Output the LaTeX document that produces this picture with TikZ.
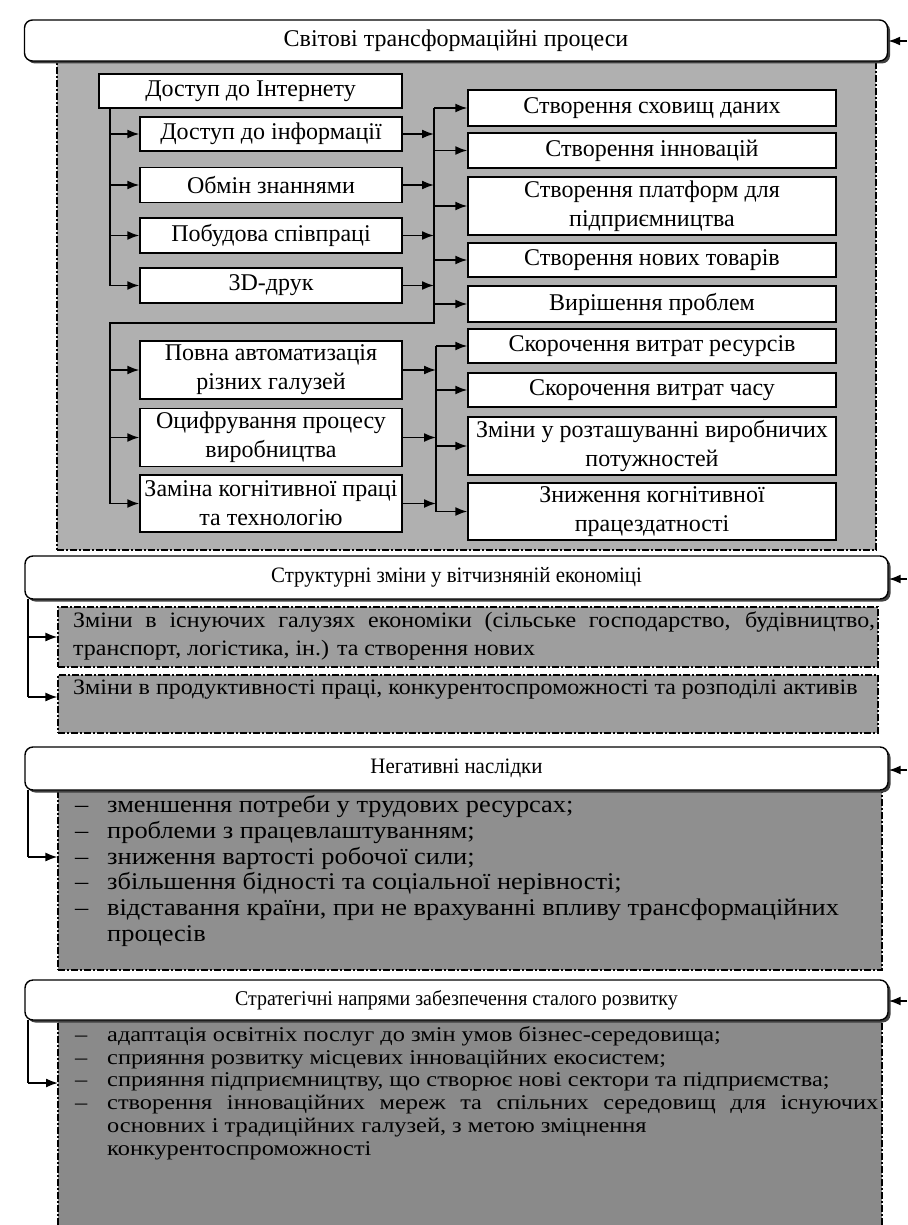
\documentclass[tikz,border=0pt]{standalone}
\usepackage{fontspec}
\setmainfont{Liberation Serif}
\newfontfamily\titfont{Liberation Serif}[FakeStretch=0.95]
\newfontfamily\sfont{Liberation Serif}[FakeStretch=1.09]
\newfontfamily\nfont{Liberation Serif}[FakeStretch=1.1]
\newfontfamily\qfont{Liberation Serif}[FakeStretch=1.16]
\usetikzlibrary{arrows.meta,shadows}
\definecolor{pone}{gray}{0.69}
\definecolor{ptwo}{gray}{0.62}
\definecolor{pthree}{gray}{0.56}
\definecolor{pfour}{gray}{0.54}
\begin{document}
\begin{tikzpicture}[x=1pt,y=-1pt,
  conn/.style={line width=1.7pt},
  arr/.style={line width=1.7pt,-{Latex[length=12pt,width=9pt]}},
  ibox/.style={draw,line width=1.4pt,fill=white,inner sep=0pt,align=center,
    font=\fontsize{24}{29}\selectfont},
  lbox/.style={ibox,minimum width=262pt},
  rbox/.style={ibox,minimum width=368pt},
  titlebox/.style={draw,line width=1.4pt,fill=white,rounded corners=8pt,inner sep=0pt,
    minimum width=863pt,font=\titfont\fontsize{22}{26}\selectfont,
    drop shadow={shadow xshift=2.5pt,shadow yshift=-2.5pt,fill=black!75,opacity=1}},
  pborder/.style={line width=1.1pt,dash pattern=on 7pt off 2pt on 2pt off 2pt},
  stext/.style={anchor=base west,inner sep=0pt,font=\sfont\fontsize{22}{26}\selectfont},
  ntext/.style={anchor=base west,inner sep=0pt,font=\nfont\fontsize{24}{26}\selectfont},
  qtext/.style={anchor=base west,inner sep=0pt,font=\qfont\fontsize{21}{24}\selectfont},
]
\useasboundingbox (0,0) rectangle (907,1225);

% ---------- panel 1 ----------
\node[fill=pone,draw,pborder,minimum width=819pt,minimum height=495pt,inner sep=0pt] (p1) at (466.5,302.5) {};

% ---------- title 1 ----------
\node[titlebox,minimum height=41pt,font=\fontsize{24}{26}\selectfont] (t1) at (456,40.5) {Світові трансформаційні процеси};
\coordinate (e1) at (907,41);
\draw[arr] (e1) -- (t1.east |- e1);

% inner boxes left
\node[ibox,minimum width=303pt,minimum height=34pt] (inet) at (250.5,91) {Доступ до Інтернету};
\node[lbox,minimum height=34pt] (li1) at (271,134) {Доступ до інформації};
\node[lbox,minimum height=35pt] (li2) at (271,185) {Обмін знаннями};
\node[lbox,minimum height=35pt] (li3) at (271,235.5) {Побудова співпраці};
\node[lbox,minimum height=35pt] (li4) at (271,285.5) {3D-друк};
\node[lbox,minimum height=58pt] (la) at (271,370) {Повна автоматизація\\різних галузей};
\node[lbox,minimum height=58pt] (lb) at (271,437.5) {Оцифрування процесу\\виробництва};
\node[lbox,minimum height=57pt] (lc) at (271,503.5) {Заміна когнітивної праці\\та технологію};

% inner boxes right
\node[rbox,minimum height=36pt] (r1) at (652,108) {Створення сховищ даних};
\node[rbox,minimum height=35pt] (r2) at (652,150.5) {Створення інновацій};
\node[rbox,minimum height=58pt] (r3) at (652,206) {Створення платформ для\\підприємництва};
\node[rbox,minimum height=34pt] (r4) at (652,260) {Створення нових товарів};
\node[rbox,minimum height=36pt] (r5) at (652,304) {Вирішення проблем};
\node[rbox,minimum height=34pt] (r6) at (652,346) {Скорочення витрат ресурсів};
\node[rbox,minimum height=34pt] (r7) at (652,390) {Скорочення витрат часу};
\node[rbox,minimum height=58pt] (r8) at (652,446) {Зміни у розташуванні виробничих\\потужностей};
\node[rbox,minimum height=57pt] (r9) at (652,511.5) {Зниження когнітивної\\працездатності};

% connectors, upper group
\coordinate (La) at (110,108);
\coordinate (Lb) at (110,323);
\coordinate (Ta) at (434,108);
\coordinate (Tb) at (434,323);
\coordinate (Uc) at (436,346);
\draw[conn] (La) -- (La |- li4.west);
\foreach \n in {li1,li2,li3,li4}{\draw[arr] (La |- \n.west) -- (\n.west);}
\foreach \n in {li1,li2,li3,li4}{\draw[arr] (\n.east) -- (\n.east -| Ta);}
\draw[conn] (Ta) -- (Tb) -- (Lb) -- (Lb |- lc.west);
\foreach \n in {r1,r2,r3,r4,r5}{\draw[arr] (Ta |- \n.west) -- (\n.west);}
\foreach \n in {la,lb,lc}{\draw[arr] (Lb |- \n.west) -- (\n.west);}
% lower group
\draw[conn] (Uc) -- (Uc |- r9.west);
\foreach \n in {la,lb,lc}{\draw[arr] (\n.east) -- (\n.east -| Uc);}
\foreach \n in {r6,r7,r8,r9}{\draw[arr] (Uc |- \n.west) -- (\n.west);}

% ---------- title 2 ----------
\node[titlebox,minimum height=43pt] (t2) at (456.5,577.5) {Структурні зміни у вітчизняній економіці};
\coordinate (e2) at (907,579);
\draw[arr] (e2) -- (t2.east |- e2);
\node[fill=ptwo,draw,pborder,minimum width=820pt,minimum height=60pt,inner sep=0pt] (p2a) at (468,637) {};
\node[fill=ptwo,draw,pborder,minimum width=820pt,minimum height=58pt,inner sep=0pt] (p2b) at (468,704) {};
\node[stext] (s1) at (73,627) {\makebox[802pt][s]{Зміни в існуючих галузях економіки (сільське господарство, будівництво,}};
\node[stext] (s2) at (73,655) {транспорт, логістика, ін.) та створення нових};
\node[stext] (s3) at (73,694) {Зміни в продуктивності праці, конкурентоспроможності та розподілі активів};
\coordinate (V2) at (28,599);
\coordinate (A2) at (28,637);
\coordinate (B2) at (28,697);
\draw[conn] (V2) -- (B2);
\draw[arr] (A2) -- (A2 -| p2a.west);
\draw[arr] (B2) -- (B2 -| p2b.west);

% ---------- title 3 ----------
\node[fill=pthree,draw,pborder,minimum width=824pt,minimum height=182pt,inner sep=0pt] (p3) at (470,879) {};
\node[titlebox,minimum height=43pt] (t3) at (456.5,768.5) {Негативні наслідки};
\coordinate (e3) at (907,770);
\draw[arr] (e3) -- (t3.east |- e3);
\coordinate (V3) at (28,790);
\coordinate (A3) at (28,857);
\draw[conn] (V3) -- (A3);
\draw[arr] (A3) -- (A3 -| p3.west);
\node[ntext] (n1) at (75,812) {\makebox[32pt][l]{–}зменшення потреби у трудових ресурсах;};
\node[ntext] (n2) at (75,838) {\makebox[32pt][l]{–}проблеми з працевлаштуванням;};
\node[ntext] (n3) at (75,864) {\makebox[32pt][l]{–}зниження вартості робочої сили;};
\node[ntext] (n4) at (75,889) {\makebox[32pt][l]{–}збільшення бідності та соціальної нерівності;};
\node[ntext] (n5) at (75,915) {\makebox[32pt][l]{–}відставання країни, при не врахуванні впливу трансформаційних};
\node[ntext] (n6) at (107,941) {процесів};

% ---------- title 4 ----------
\fill[pfour] (58,1010) rectangle (882,1225);
\draw[pborder] (58,1010) -- (58,1225);
\draw[pborder] (882,1010) -- (882,1225);
\coordinate (p4w) at (58,1083);
\node[titlebox,minimum height=40pt,font=\titfont\fontsize{21}{24}\selectfont] (t4) at (456.5,1000) {Стратегічні напрями забезпечення сталого розвитку};
\coordinate (e4) at (907,1001);
\draw[arr] (e4) -- (t4.east |- e4);
\coordinate (V4) at (28,1020);
\coordinate (A4) at (28,1083);
\draw[conn] (V4) -- (A4);
\draw[arr] (A4) -- (p4w);
\node[qtext] (m1) at (75,1041) {\makebox[32pt][l]{–}адаптація освітніх послуг до змін умов бізнес-середовища;};
\node[qtext] (m2) at (75,1064) {\makebox[32pt][l]{–}сприяння розвитку місцевих інноваційних екосистем;};
\node[qtext] (m3) at (75,1086) {\makebox[32pt][l]{–}сприяння підприємництву, що створює нові сектори та підприємства;};
\node[qtext] (m4) at (75,1109) {\makebox[803pt][s]{\makebox[32pt][l]{–}створення інноваційних мереж та спільних середовищ для існуючих}};
\node[qtext] (m5) at (107,1132) {основних і традиційних галузей, з метою зміцнення};
\node[qtext] (m6) at (107,1155) {конкурентоспроможності};
\end{tikzpicture}
\end{document}
